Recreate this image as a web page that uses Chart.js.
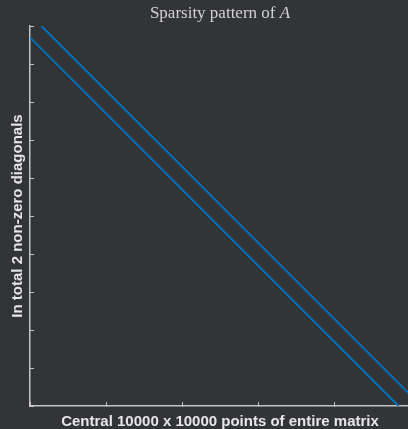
<!DOCTYPE html>
<html>
<head>
<meta charset="utf-8">
<script src="https://cdn.jsdelivr.net/npm/chart.js@4"></script>
<style>
    html, body { margin: 0; padding: 0; background: #333438; }
    #wrap { width: 408px; height: 429px; overflow: hidden; }
</style>
</head>
<body>
<div id="wrap"><canvas id="spy" width="412" height="429"></canvas></div>
<script>
// Matrix size and the two non-zero diagonals (end points as column / row index)
const matrixSize = 10000;
const upperCols = [300, 10000];
const upperRows = [0, 9700];
const lowerCols = [0, 9700];
const lowerRows = [300, 10000];

const lineColor = '#0072BD';
const axisColor = '#c4c4c4';
const textColor = '#e6e6e6';

function toPoints(cols, rows) {
    return cols.map((c, i) => ({ x: c, y: rows[i] }));
}

// Title with italic "A", centred over the plot area
const titlePlugin = {
    id: 'spyTitle',
    afterDraw(chart) {
        const { ctx, chartArea } = chart;
        const part1 = 'Sparsity pattern of ';
        const part2 = 'A';
        ctx.save();
        ctx.fillStyle = '#d2d2d2';
        ctx.textBaseline = 'alphabetic';
        ctx.font = '17px "Liberation Serif", serif';
        const w1 = ctx.measureText(part1).width;
        ctx.font = 'italic 17px "Liberation Serif", serif';
        const w2 = ctx.measureText(part2).width;
        const cx = (chartArea.left + chartArea.right) / 2;
        let x = cx - (w1 + w2) / 2;
        ctx.font = '17px "Liberation Serif", serif';
        ctx.fillText(part1, x, 18);
        ctx.font = 'italic 17px "Liberation Serif", serif';
        ctx.fillText(part2, x + w1, 18);
        ctx.restore();
    }
};

const lineStyle = {
    showLine: true,
    borderColor: lineColor,
    backgroundColor: lineColor,
    borderWidth: 2,
    pointRadius: 0,
    fill: false
};

const labelFont = { family: '"Liberation Sans", Arial, sans-serif', size: 15, weight: 'bold' };

const ctx = document.getElementById('spy').getContext('2d');
new Chart(ctx, {
    type: 'scatter',
    data: {
        datasets: [
            { data: toPoints(upperCols, upperRows), ...lineStyle },
            { data: toPoints(lowerCols, lowerRows), ...lineStyle }
        ]
    },
    options: {
        responsive: false,
        animation: false,
        layout: { padding: { top: 26, right: 2, left: 0, bottom: 0 } },
        plugins: {
            legend: { display: false },
            tooltip: { enabled: false }
        },
        scales: {
            x: {
                type: 'linear',
                min: 0,
                max: matrixSize,
                afterFit: (s) => { s.height = 23; },
                ticks: { display: false, stepSize: 2000 },
                grid: { drawOnChartArea: false, tickLength: -4, color: axisColor, lineWidth: 1 },
                border: { display: true, color: axisColor, width: 1.5 },
                title: {
                    display: true,
                    text: 'Central 10000 x 10000 points of entire matrix',
                    color: textColor,
                    font: labelFont,
                    padding: { top: 0, bottom: -2 }
                }
            },
            y: {
                type: 'linear',
                reverse: true,
                min: 0,
                max: matrixSize,
                afterFit: (s) => { s.width = 30; },
                ticks: { display: false, stepSize: 1000 },
                grid: { drawOnChartArea: false, tickLength: -4, color: axisColor, lineWidth: 1 },
                border: { display: true, color: axisColor, width: 1.5 },
                title: {
                    display: true,
                    text: 'In total 2 non-zero diagonals',
                    color: textColor,
                    font: labelFont,
                    padding: { top: 9, bottom: 0 }
                }
            }
        }
    },
    plugins: [titlePlugin]
});
</script>
</body>
</html>
